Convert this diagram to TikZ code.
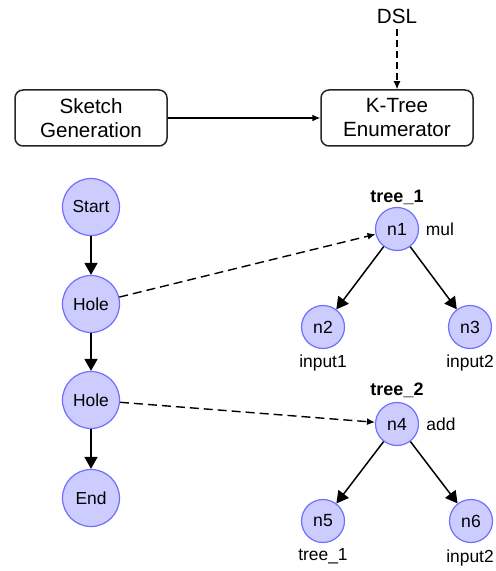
\documentclass[tikz,border=0pt]{standalone}
\usepackage{fontspec}
\setmainfont{Liberation Sans}
\usetikzlibrary{arrows.meta}
\definecolor{cfill}{RGB}{204,204,255}
\definecolor{cdraw}{RGB}{110,110,255}
\begin{document}
\begin{tikzpicture}[x=0.5pt,y=-0.5pt,
  box/.style={draw=black!85,line width=0.75pt,rounded corners=4pt,minimum width=76pt,minimum height=28pt,align=center,font=\fontsize{10.3pt}{12pt}\selectfont,inner sep=0pt},
  big/.style={circle,draw=cdraw,fill=cfill,line width=0.6pt,minimum size=28.5pt,inner sep=0pt,font=\fontsize{8.7pt}{10pt}\selectfont},
  small/.style={circle,draw=cdraw,fill=cfill,line width=0.6pt,minimum size=21.5pt,inner sep=0pt,font=\fontsize{8.8pt}{10pt}\selectfont},
  lbl/.style={inner sep=0pt,font=\fontsize{8.7pt}{10pt}\selectfont},
  flow/.style={-{Triangle[length=6pt,width=6.5pt]},line width=0.75pt},
  top/.style={-{Latex[length=4pt,width=3.5pt]},line width=0.6pt},
  dsh/.style={-{Latex[length=4pt,width=3.5pt]},line width=0.7pt,dash pattern=on 4.5pt off 2.5pt}]
\useasboundingbox (0,0) rectangle (495,571);
\node[inner sep=0pt,font=\fontsize{10.3pt}{12pt}\selectfont] (dsl) at (397,16) {DSL};
\node[box] (sk) at (91,118) {Sketch\\Generation};
\node[box] (kt) at (397,118) {K-Tree\\Enumerator};
\draw[top] (sk) -- (kt);
\coordinate (d0) at (397,29);
\draw[top,dash pattern=on 3.5pt off 2pt] (d0) -- (kt.north);

\node[big] (st) at (91,207) {Start};
\node[big] (h1) at (91,304) {Hole};
\node[big] (h2) at (91,400) {Hole};
\node[big] (en) at (91,498) {End};
\draw[flow] (st) -- (h1);
\draw[flow] (h1) -- (h2);
\draw[flow] (h2) -- (en);

\node[small] (n1) at (397,229) {n1};
\node[small] (n2) at (323,327) {n2};
\node[small] (n3) at (470,327) {n3};
\node[small] (n4) at (397,424) {n4};
\node[small] (n5) at (323,521) {n5};
\node[small] (n6) at (471,521) {n6};
\draw[flow] (n1) -- (n2);
\draw[flow] (n1) -- (n3);
\draw[flow] (n4) -- (n5);
\draw[flow] (n4) -- (n6);
\draw[dsh] (h1) -- (n1);
\draw[dsh] (h2) -- (n4);

\node[lbl,font=\fontsize{9pt}{10pt}\selectfont\bfseries] (t1) at (397,197) {tree\_1};
\node[lbl] (m1) at (440,229) {mul};
\node[lbl] (i1) at (323,363) {input1};
\node[lbl] (i2) at (470,363) {input2};
\node[lbl,font=\fontsize{9pt}{10pt}\selectfont\bfseries] (t2) at (397,390) {tree\_2};
\node[lbl] (a4) at (441,424) {add};
\node[lbl] (t5) at (323,556) {tree\_1};
\node[lbl] (i6) at (470,558) {input2};
\end{tikzpicture}
\end{document}
